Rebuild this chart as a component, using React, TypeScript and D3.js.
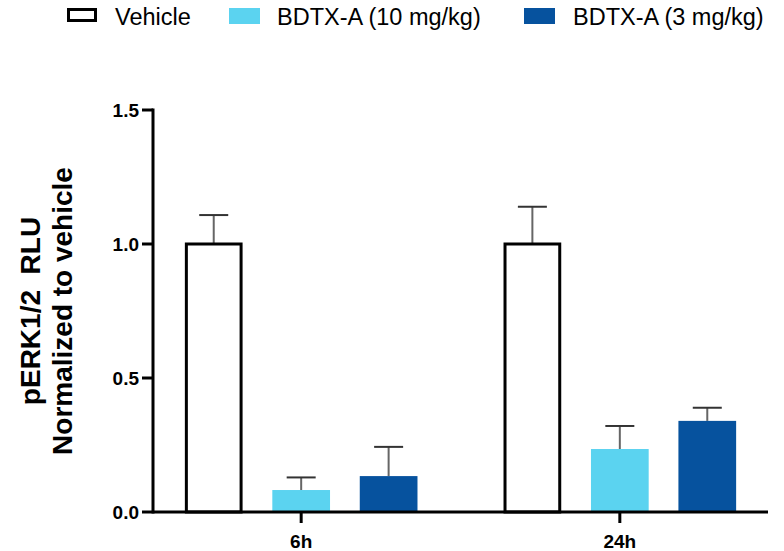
import React from 'react';
import * as d3 from 'd3';

// data
const timepoints = ['6h', '24h'];
const seriesNames = ['Vehicle', 'BDTX-A (10 mg/kg)', 'BDTX-A (3 mg/kg)'];
const meanValues = [
    [1.0, 0.082, 0.134],   // 6h
    [1.0, 0.235, 0.34],    // 24h
];
const errorTops = [
    [1.108, 0.129, 0.243],
    [1.139, 0.321, 0.389],
];
const yTicks = [0, 0.5, 1.0, 1.5];

const fills = ['#ffffff', '#5bd3f0', '#06529e'];

const W = 784;
const H = 551;
const left = 153;
const right = 768;
const top = 110;
const bottom = 512;

const App = () => {
    const x0 = d3.scaleBand<string>()
        .domain(timepoints)
        .range([left, right])
        .paddingInner(0.27)
        .paddingOuter(0.1);

    const x1 = d3.scaleBand<string>()
        .domain(seriesNames)
        .range([0, x0.bandwidth()])
        .paddingInner(0.34)
        .paddingOuter(0);

    const y = d3.scaleLinear().domain([0, 1.5]).range([bottom, top]);

    const capW = 29;
    const labelFont = 'Arial, "Liberation Sans", sans-serif';

    // legend layout
    const legendItems = [
        { name: seriesNames[0], box: 67, text: 115 },
        { name: seriesNames[1], box: 229, text: 277 },
        { name: seriesNames[2], box: 524, text: 573 },
    ];

    return (
        <svg width={W} height={H} style={{ display: 'block', position: 'absolute', left: 0, top: 0 }}>
            <rect width={W} height={H} fill="#fff" />

            {/* legend */}
            {legendItems.map((d, i) => (
                <g key={d.name}>
                    {i === 0
                        ? <rect x={d.box + 1.5} y={9.5} width={27} height={11} fill="#fff" stroke="#000" strokeWidth={3} />
                        : <rect x={d.box} y={8} width={31} height={16} fill={fills[i]} />}
                    <text x={d.text} y={25} fontFamily={labelFont} fontSize={23.5} fill="#000">{d.name}</text>
                </g>
            ))}

            {/* bars */}
            {timepoints.map((t, gi) => (
                <g key={t} transform={`translate(${x0(t)},0)`}>
                    {seriesNames.map((s, si) => {
                        const bx = x1(s)!;
                        const bw = x1.bandwidth();
                        const v = meanValues[gi][si];
                        const e = errorTops[gi][si];
                        const cx = bx + bw / 2;
                        return (
                            <g key={s}>
                                <line x1={cx} x2={cx} y1={y(v)} y2={y(e)} stroke="#666" strokeWidth={2} />
                                <line x1={cx - capW / 2} x2={cx + capW / 2} y1={y(e)} y2={y(e)} stroke="#333" strokeWidth={2} />
                                {si === 0
                                    ? <rect x={bx + 1.5} y={y(v)} width={bw - 3} height={bottom - y(v)} fill="#fff" stroke="#000" strokeWidth={3} />
                                    : <rect x={bx} y={y(v)} width={bw} height={bottom - y(v)} fill={fills[si]} />}
                            </g>
                        );
                    })}
                </g>
            ))}

            {/* y axis */}
            <line x1={left} x2={left} y1={top - 1.5} y2={bottom + 1.5} stroke="#000" strokeWidth={3} />
            {yTicks.map(t => (
                <g key={t}>
                    <line x1={left - 11} x2={left} y1={y(t)} y2={y(t)} stroke="#000" strokeWidth={3} />
                    <text x={left - 14} y={y(t)} dy="0.35em" textAnchor="end" fontFamily={labelFont}
                        fontWeight="bold" fontSize={19} fill="#000">{d3.format('.1f')(t)}</text>
                </g>
            ))}

            {/* x axis */}
            <line x1={left} x2={right} y1={bottom} y2={bottom} stroke="#000" strokeWidth={3} />
            {timepoints.map(t => {
                const cx = x0(t)! + x0.bandwidth() / 2;
                return (
                    <g key={t}>
                        <line x1={cx} x2={cx} y1={bottom} y2={bottom + 11} stroke="#000" strokeWidth={3} />
                        <text x={cx} y={548} textAnchor="middle" fontFamily={labelFont}
                            fontWeight="bold" fontSize={19} fill="#000">{t}</text>
                    </g>
                );
            })}

            {/* y axis title */}
            <g transform={`translate(0,${(top + bottom) / 2}) rotate(-90)`}>
                <text x={0} y={40} textAnchor="middle" fontFamily={labelFont} fontWeight="bold" fontSize={28}
                    fill="#000" style={{ whiteSpace: 'pre' }}>{'pERK1/2  RLU'}</text>
                <text x={0} y={72} textAnchor="middle" fontFamily={labelFont} fontWeight="bold" fontSize={28}
                    fill="#000">Normalized to vehicle</text>
            </g>
        </svg>
    );
};

export default App;
